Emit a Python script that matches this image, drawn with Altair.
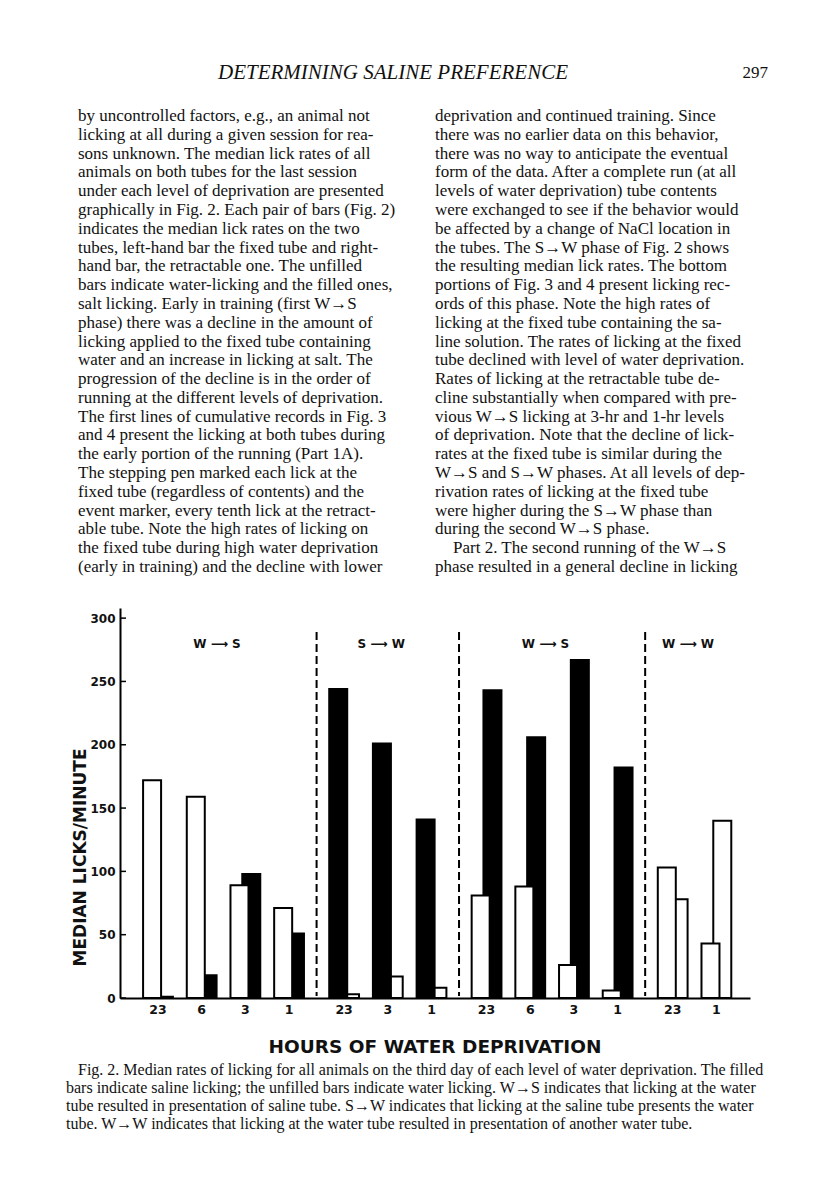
import altair as alt
import pandas as pd

# ---------------- figure data ----------------
phase_titles = ["W ⟶ S", "S ⟶ W", "W ⟶ S", "W ⟶ W"]
group_phase = [0, 0, 0, 0, 1, 1, 1, 2, 2, 2, 2, 3, 3]
hours_labels = ["23", "6", "3", "1", "23", "3", "1", "23", "6", "3", "1", "23", "1"]
fixed_tube = [172, 159, 89, 71, 244, 201, 141, 81, 88, 26, 6, 103, 43]
retractable_tube = [1, 18, 98, 51, 3, 17, 8, 243, 206, 267, 182, 78, 140]
phase_fixed_content = ["water", "saline", "water", "water"]
phase_retract_content = ["saline", "water", "saline", "water"]
y_ticks = [0, 50, 100, 150, 200, 250, 300]

# ---------------- page text ----------------
header_title = "DETERMINING SALINE PREFERENCE"
page_number = "297"
left_lines = [
    "by uncontrolled factors, e.g., an animal not",
    "licking at all during a given session for rea-",
    "sons unknown. The median lick rates of all",
    "animals on both tubes for the last session",
    "under each level of deprivation are presented",
    "graphically in Fig. 2. Each pair of bars (Fig. 2)",
    "indicates the median lick rates on the two",
    "tubes, left-hand bar the fixed tube and right-",
    "hand bar, the retractable one. The unfilled",
    "bars indicate water-licking and the filled ones,",
    "salt licking. Early in training (first W→S",
    "phase) there was a decline in the amount of",
    "licking applied to the fixed tube containing",
    "water and an increase in licking at salt. The",
    "progression of the decline is in the order of",
    "running at the different levels of deprivation.",
    "The first lines of cumulative records in Fig. 3",
    "and 4 present the licking at both tubes during",
    "the early portion of the running (Part 1A).",
    "The stepping pen marked each lick at the",
    "fixed tube (regardless of contents) and the",
    "event marker, every tenth lick at the retract-",
    "able tube. Note the high rates of licking on",
    "the fixed tube during high water deprivation",
    "(early in training) and the decline with lower",
]
right_lines = [
    "deprivation and continued training. Since",
    "there was no earlier data on this behavior,",
    "there was no way to anticipate the eventual",
    "form of the data. After a complete run (at all",
    "levels of water deprivation) tube contents",
    "were exchanged to see if the behavior would",
    "be affected by a change of NaCl location in",
    "the tubes. The S→W phase of Fig. 2 shows",
    "the resulting median lick rates. The bottom",
    "portions of Fig. 3 and 4 present licking rec-",
    "ords of this phase. Note the high rates of",
    "licking at the fixed tube containing the sa-",
    "line solution. The rates of licking at the fixed",
    "tube declined with level of water deprivation.",
    "Rates of licking at the retractable tube de-",
    "cline substantially when compared with pre-",
    "vious W→S licking at 3-hr and 1-hr levels",
    "of deprivation. Note that the decline of lick-",
    "rates at the fixed tube is similar during the",
    "W→S and S→W phases. At all levels of dep-",
    "rivation rates of licking at the fixed tube",
    "were higher during the S→W phase than",
    "during the second W→S phase.",
    "Part 2. The second running of the W→S",
    "phase resulted in a general decline in licking",
]
indented_line = 23  # paragraph start in the right column
x_title = "HOURS OF WATER DEPRIVATION"
y_title = "MEDIAN LICKS/MINUTE"
caption_lines = [
    "Fig. 2. Median rates of licking for all animals on the third day of each level of water deprivation. The filled",
    "bars indicate saline licking; the unfilled bars indicate water licking. W→S indicates that licking at the water",
    "tube resulted in presentation of saline tube. S→W indicates that licking at the saline tube presents the water",
    "tube. W→W indicates that licking at the water tube resulted in presentation of another water tube.",
]

# ---------------- layout (slots on the x scale) ----------------
GAP = 0.26   # extra space between phases, in group steps
OFF = 0.135  # half distance between the two bars of a pair

bar_rows, group_rows = [], []
for i, (p, h, f, r) in enumerate(zip(group_phase, hours_labels, fixed_tube, retractable_tube)):
    slot = i + GAP * p
    group_rows.append({"slot": slot, "hours": h, "phase": p})
    bar_rows.append({"tube": "fixed", "rate": f, "content": phase_fixed_content[p], "xc": slot - OFF})
    bar_rows.append({"tube": "retractable", "rate": r, "content": phase_retract_content[p], "xc": slot + OFF})
bars = pd.DataFrame(bar_rows)
groups = pd.DataFrame(group_rows)
phase_df = pd.DataFrame({
    "lx": [groups[groups.phase == p].slot.mean() - 0.15 for p in range(4)],
    "title": phase_titles,
})
sep_df = pd.DataFrame({"sx": [groups[groups.phase == p].slot.max() + 0.5 + GAP / 2 for p in range(3)]})
tick_df = pd.DataFrame({"v": y_ticks})

W, H = 630, 390
xscale = alt.Scale(domain=[-0.755, 13.435], nice=False, zero=False)
yscale = alt.Scale(domain=[0, 308], nice=False)
xaxis = alt.Axis(labels=False, ticks=False, tickSize=0, title=None, grid=False,
                 domainColor="black", domainWidth=2)
yaxis = alt.Axis(values=y_ticks, ticks=False, tickSize=0, grid=False, labelPadding=5,
                 labelFont="DejaVu Sans", labelFontWeight="bold", labelFontSize=12,
                 labelColor="#111", domainColor="black", domainWidth=2,
                 title=y_title, titleFont="DejaVu Sans", titleFontWeight="bold",
                 titleFontSize=17, titleColor="#111", titleAngle=270, titleAlign="center",
                 titleBaseline="middle", titleX=-40, titleY=249)

fill_scale = alt.Scale(domain=["water", "saline"], range=["white", "black"])

def bar_layer(tube):
    return alt.Chart(bars[bars.tube == tube]).mark_bar(size=18, stroke="black", strokeWidth=2).encode(
        x=alt.X("xc:Q", scale=xscale, axis=xaxis),
        y=alt.Y("rate:Q", scale=yscale, axis=yaxis),
        fill=alt.Fill("content:N", scale=fill_scale, legend=None),
    )

right_bars = bar_layer("retractable")
left_bars = bar_layer("fixed")

x_labels = alt.Chart(groups).mark_text(font="DejaVu Sans", fontWeight="bold", fontSize=12.5,
                                        baseline="middle", color="#111").encode(
    x=alt.X("slot:Q", scale=xscale, axis=xaxis),
    y=alt.value(H + 12),
    text="hours:N",
)
phase_text = alt.Chart(phase_df).mark_text(font="DejaVu Sans", fontWeight="bold", fontSize=12,
                                           baseline="middle", color="#111").encode(
    x=alt.X("lx:Q", scale=xscale, axis=xaxis),
    y=alt.value(36),
    text="title:N",
)
separators = alt.Chart(sep_df).mark_rule(strokeDash=[8, 4], strokeWidth=2, color="black").encode(
    x=alt.X("sx:Q", scale=xscale, axis=xaxis),
    y=alt.value(24),
    y2=alt.value(H - 2),
)
y_tick_marks = alt.Chart(tick_df).mark_rule(strokeWidth=1.5, color="black").encode(
    y=alt.Y("v:Q", scale=yscale, axis=yaxis),
    x=alt.value(0),
    x2=alt.value(6),
)

figure = alt.layer(right_bars, left_bars, separators, y_tick_marks, x_labels, phase_text).properties(
    width=W, height=H)

# ---------------- top text block ----------------
body_df = pd.DataFrame(
    [{"col": "left", "line": i, "text": t, "indent": False} for i, t in enumerate(left_lines)]
    + [{"col": "right", "line": i, "text": t, "indent": i == indented_line} for i, t in enumerate(right_lines)]
)
TOP_H = 568
col_x = alt.X("col:N", scale=alt.Scale(type="point", domain=["left", "right"], range=[-42, 315], padding=0), axis=None)
line_y = alt.Y("line:O", scale=alt.Scale(type="point", range=[76, 527], padding=0), axis=None)
header = alt.Chart(pd.DataFrame({"t": [header_title]})).mark_text(
    font="Liberation Serif", fontStyle="italic", fontSize=21, align="center", baseline="middle",
    color="#111").encode(x=alt.value(273), y=alt.value(33), text="t:N")
pnum = alt.Chart(pd.DataFrame({"t": [page_number]})).mark_text(
    font="Liberation Serif", fontSize=17, align="right", baseline="middle",
    color="#111").encode(x=alt.value(648), y=alt.value(33), text="t:N")
body = alt.Chart(body_df[~body_df.indent]).mark_text(
    font="Liberation Serif", fontSize=17, align="left", baseline="middle", color="#111").encode(
    x=col_x, y=line_y, text="text:N")
body_indent = alt.Chart(body_df[body_df.indent]).mark_text(
    font="Liberation Serif", fontSize=17, align="left", baseline="middle", color="#111", dx=18).encode(
    x=col_x, y=line_y, text="text:N")
top = alt.layer(header, pnum, body, body_indent).properties(width=W, height=TOP_H)

# ---------------- bottom: axis title + caption ----------------
cap_df = pd.DataFrame({"line": list(range(len(caption_lines))), "text": caption_lines})
cap_y = alt.Y("line:O", scale=alt.Scale(type="point", range=[72, 126], padding=0), axis=None)
xt = alt.Chart(pd.DataFrame({"t": [x_title]})).mark_text(
    font="DejaVu Sans", fontWeight="bold", fontSize=18.5, align="center", baseline="middle",
    color="#111").encode(x=alt.value(315), y=alt.value(49), text="t:N")
cap_first = alt.Chart(cap_df[cap_df.line == 0]).mark_text(
    font="Liberation Serif", fontSize=16, align="left", baseline="middle", color="#111").encode(
    x=alt.value(-42), y=cap_y, text="text:N")
cap_rest = alt.Chart(cap_df[cap_df.line > 0]).mark_text(
    font="Liberation Serif", fontSize=16, align="left", baseline="middle", color="#111").encode(
    x=alt.value(-54), y=cap_y, text="text:N")
bottom = alt.layer(xt, cap_first, cap_rest).properties(width=W, height=142)

chart = alt.vconcat(top, figure, bottom, spacing=0, bounds="flush").properties(
    padding={"left": 58, "top": 32, "right": 8, "bottom": 8}
).configure(background="white").configure_view(strokeWidth=0)

chart.save("out.html", embed_options={"renderer": "svg", "actions": False})
